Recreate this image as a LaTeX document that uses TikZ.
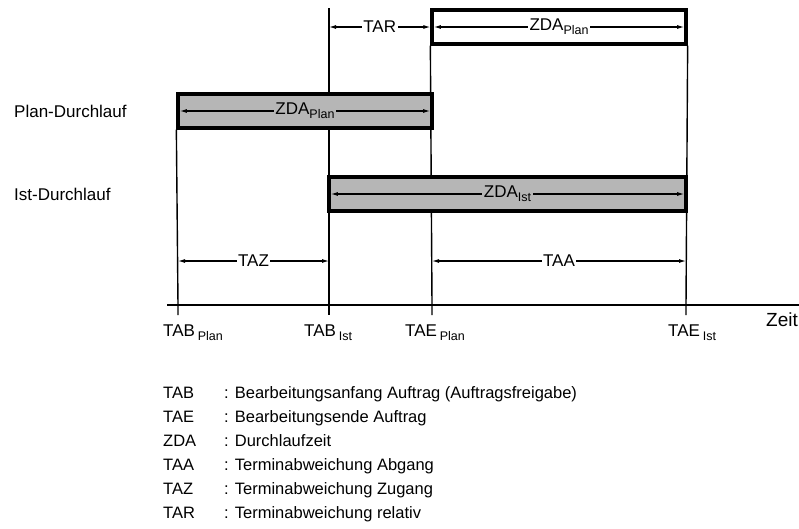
\documentclass[tikz,border=0pt]{standalone}
\usepackage{fontspec}
\setmainfont{Liberation Sans}
\usetikzlibrary{arrows.meta}
\definecolor{barfill}{RGB}{182,182,182}
\newcommand{\lsub}[1]{\raisebox{-4pt}{\fontsize{12.5}{14}\selectfont #1}}

\begin{document}
\begin{tikzpicture}[
    x=1pt, y=-1pt,
    every node/.style={font=\fontsize{17}{20}\selectfont},
    vline/.style={line width=1.4pt},
    bar/.style={draw, line width=3.3pt, minimum height=34pt, inner sep=0pt},
    dim/.style={line width=1.1pt, {Latex[length=7pt,width=4pt]}-{Latex[length=7pt,width=4pt]}},
    wt/.style={fill=white, inner sep=1.5pt},
    gt/.style={fill=barfill, inner sep=1.5pt},
    legend/.style={font=\fontsize{16.5}{18}\selectfont, anchor=base west, inner sep=0pt}
  ]
  \useasboundingbox (0,0) rectangle (799,528);

  % Time points on the axis
  \coordinate (tabp) at (178,305);
  \coordinate (tabi) at (329,305);
  \coordinate (taep) at (432,305);
  \coordinate (taei) at (686,305);
  \coordinate (tartop) at (329,8);
  \coordinate (dimrow) at (0,261);
  \coordinate (axl) at (167,305);
  \coordinate (axr) at (799,305);

  % Bars
  \node[bar, fill=white, minimum width=254pt] (zdatop) at (559,27) {};
  \node[bar, fill=barfill, minimum width=254pt] (zdaplan) at (305,111) {};
  \node[bar, fill=barfill, minimum width=357pt] (zdaist) at (507.5,194) {};

  % Vertical lines and axis
  \draw[vline] (zdaplan.south west) -- (tabp) -- ++(0,10);
  \draw[vline] (tartop) -- (tabi) -- ++(0,10);
  \draw[vline] (zdatop.south west) -- (taep) -- ++(0,10);
  \draw[vline] (zdatop.south east) -- (taei) -- ++(0,10);
  \draw[vline] (axl) -- (axr);

  % Bars again on top of the lines
  \node[bar, fill=barfill, minimum width=254pt] at (zdaplan) {};
  \node[bar, fill=barfill, minimum width=357pt] at (zdaist) {};

  % Dimension arrows
  \draw[dim] (tabi |- zdatop) -- node[wt] {TAR} (zdatop.west);
  \draw[dim] ([xshift=3.5pt]zdatop.west) -- node[wt] {ZDA\lsub{Plan}} ([xshift=-3.5pt]zdatop.east);
  \draw[dim] ([xshift=3.5pt]zdaplan.west) -- node[gt] {ZDA\lsub{Plan}} ([xshift=-3.5pt]zdaplan.east);
  \draw[dim] ([xshift=3.5pt]zdaist.west) -- node[gt] {ZDA\lsub{Ist}} ([xshift=-3.5pt]zdaist.east);
  \draw[dim] (tabp |- dimrow) -- node[wt] {TAZ} (tabi |- dimrow);
  \draw[dim] (taep |- dimrow) -- node[wt] {TAA} (taei |- dimrow);

  % Row labels
  \node[anchor=base west, inner sep=0pt] (planrow) at (14,117) {Plan-Durchlauf};
  \node[anchor=base west, inner sep=0pt] (istrow) at (14,200) {Ist-Durchlauf};

  % Axis labels
  \node[anchor=base west, inner sep=0pt] (ltabp) at (163,336) {TAB\,\lsub{Plan}};
  \node[anchor=base west, inner sep=0pt] (ltabi) at (304,336) {TAB\,\lsub{Ist}};
  \node[anchor=base west, inner sep=0pt] (ltaep) at (405,336) {TAE\,\lsub{Plan}};
  \node[anchor=base west, inner sep=0pt] (ltaei) at (668,336) {TAE\,\lsub{Ist}};
  \node[anchor=base west, inner sep=0pt, font=\fontsize{19}{22}\selectfont] (zeit) at (766,326) {Zeit};

  % Legend
  \foreach \abbr/\txt [count=\i] in {TAB/Bearbeitungsanfang Auftrag (Auftragsfreigabe),
      TAE/Bearbeitungsende Auftrag, ZDA/Durchlaufzeit, TAA/Terminabweichung Abgang,
      TAZ/Terminabweichung Zugang, TAR/Terminabweichung relativ} {
    \node[legend] (abbr\i) at (163,374+24*\i) {\abbr};
    \node[legend] (desc\i) at (224,374+24*\i) {: \txt};
  }
\end{tikzpicture}
\end{document}
